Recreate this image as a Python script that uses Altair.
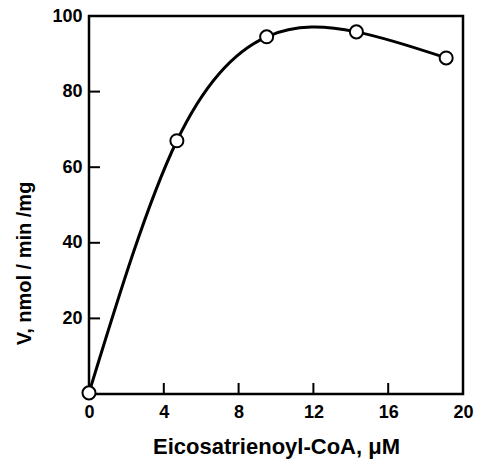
import altair as alt
import pandas as pd

# Data
conc = [0.0, 4.7, 9.5, 14.3, 19.1]
rate = [0.3, 67.0, 94.5, 95.8, 88.9]
x_ticks = [4, 8, 12, 16]
y_ticks = [20, 40, 60, 80]
x_labels = [0, 4, 8, 12, 16, 20]
y_labels = [20, 40, 60, 80, 100]

df = pd.DataFrame({"x": conc, "y": rate})
xt = pd.DataFrame({"x": x_ticks})
yt = pd.DataFrame({"y": y_ticks})

W, H = 374, 378
FONT = "Liberation Sans"

xscale = alt.Scale(domain=[0, 20], nice=False, zero=False)
yscale = alt.Scale(domain=[0, 100], nice=False, zero=False)

xaxis = alt.Axis(
    values=x_labels, ticks=False, domain=False, grid=False,
    labelFont=FONT, labelFontSize=18, labelFontWeight="bold", labelColor="black",
    labelPadding=9, labelFlush=False,
    title="Eicosatrienoyl-CoA, μM", titleFont=FONT, titleFontSize=22,
    titleFontWeight="bold", titleColor="black", titleBaseline="top", titleY=42,
)
yaxis = alt.Axis(
    values=y_labels, ticks=False, domain=False, grid=False,
    labelFont=FONT, labelFontSize=18, labelFontWeight="bold", labelColor="black",
    labelPadding=7, labelFlush=False,
    title="V, nmol / min /mg", titleFont=FONT, titleFontSize=20,
    titleFontWeight="bold", titleColor="black", titleX=-65, titleY=247,
    titleAlign="center", titleBaseline="middle", titleAngle=-90,
)

base = alt.Chart(df)

curve = base.mark_line(color="black", strokeWidth=3, interpolate="natural").encode(
    x=alt.X("x:Q", scale=xscale, axis=xaxis),
    y=alt.Y("y:Q", scale=yscale, axis=yaxis),
)

pts = base.mark_point(shape="circle", filled=True, fill="white", stroke="black",
                      strokeWidth=2, size=170, opacity=1).encode(
    x=alt.X("x:Q", scale=xscale),
    y=alt.Y("y:Q", scale=yscale),
)

xtick_marks = alt.Chart(xt).mark_rule(color="black", strokeWidth=2).encode(
    x=alt.X("x:Q", scale=xscale),
    y=alt.value(H),
    y2=alt.value(H - 11),
)
ytick_marks = alt.Chart(yt).mark_rule(color="black", strokeWidth=2).encode(
    y=alt.Y("y:Q", scale=yscale),
    x=alt.value(0),
    x2=alt.value(11),
)

chart = alt.layer(xtick_marks, ytick_marks, curve, pts).properties(
    width=W, height=H,
    autosize=alt.AutoSizeParams(type="none"),
    padding={"left": 89, "top": 16, "right": 15, "bottom": 66},
    background="white",
).configure_view(stroke="black", strokeWidth=2.5)

chart.save("out.html", embed_options={"renderer": "svg", "actions": False})
